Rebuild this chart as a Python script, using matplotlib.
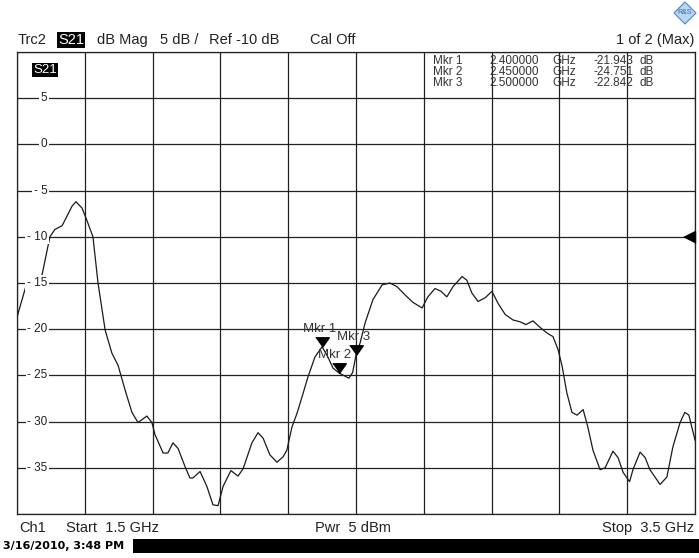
import numpy as np
import matplotlib.pyplot as plt
from matplotlib.patches import Rectangle, Polygon
from matplotlib.transforms import blended_transform_factory

plt.rcParams['font.family'] = ['Liberation Sans', 'DejaVu Sans']

# trace S21 (GHz, dB)
freq = [1.500, 1.529, 1.544, 1.559, 1.574, 1.597, 1.612, 1.633, 1.647, 1.662,
        1.674, 1.692, 1.706, 1.724, 1.739, 1.760, 1.780, 1.798, 1.819, 1.839,
        1.857, 1.883, 1.898, 1.907, 1.931, 1.945, 1.960, 1.975, 1.996, 2.010,
        2.019, 2.040, 2.060, 2.078, 2.093, 2.108, 2.131, 2.152, 2.167, 2.193,
        2.211, 2.226, 2.246, 2.267, 2.285, 2.296, 2.311, 2.326, 2.341, 2.358,
        2.379, 2.400, 2.417, 2.432, 2.450, 2.479, 2.490, 2.500, 2.512, 2.527,
        2.550, 2.577, 2.600, 2.621, 2.645, 2.668, 2.695, 2.712, 2.733, 2.751,
        2.768, 2.786, 2.813, 2.827, 2.842, 2.860, 2.881, 2.901, 2.919, 2.940,
        2.963, 2.984, 3.001, 3.022, 3.043, 3.063, 3.081, 3.096, 3.108, 3.122,
        3.137, 3.152, 3.170, 3.184, 3.199, 3.220, 3.235, 3.258, 3.273, 3.288,
        3.307, 3.317, 3.338, 3.353, 3.367, 3.397, 3.417, 3.435, 3.456, 3.470,
        3.482, 3.500]
s21 = [-18.7, -15.0, -14.6, -14.7, -14.1, -10.0, -9.2, -8.8, -7.8, -6.7,
       -6.2, -6.9, -8.2, -10.0, -15.0, -20.1, -22.6, -23.9, -26.6, -29.0,
       -30.1, -29.4, -30.1, -31.4, -33.4, -33.4, -32.3, -32.9, -34.9, -36.1,
       -36.1, -35.4, -37.0, -39.0, -39.1, -37.0, -35.3, -35.9, -35.1, -32.3,
       -31.2, -31.8, -33.6, -34.4, -33.8, -33.1, -30.6, -29.1, -27.3, -25.2,
       -23.0, -21.9, -23.0, -24.2, -24.75, -25.3, -24.7, -22.8, -21.5, -19.3,
       -16.8, -15.2, -15.0, -15.4, -16.3, -17.1, -17.7, -16.5, -15.6, -15.9,
       -16.5, -15.4, -14.3, -14.7, -16.1, -17.0, -16.6, -15.9, -17.2, -18.4,
       -19.0, -19.2, -19.5, -19.1, -19.8, -20.4, -20.8, -22.2, -24.0, -26.9,
       -29.0, -29.3, -28.7, -30.6, -33.1, -35.2, -35.0, -33.2, -33.9, -35.5,
       -36.5, -35.2, -33.3, -33.9, -35.2, -36.8, -36.0, -32.7, -30.1, -29.0,
       -29.3, -32.0]

mkr_names = ['Mkr 1', 'Mkr 2', 'Mkr 3']
mkr_freq = [2.40, 2.45, 2.50]
mkr_db = [-21.943, -24.751, -22.842]

y_ticks = [5, 0, -5, -10, -15, -20, -25, -30, -35]

W, H = 699, 558
fig = plt.figure(figsize=(W / 100, H / 100), dpi=100)


def fx(x):
    return x / W


def fy(y):
    return 1 - y / H


ax = fig.add_axes([fx(17), fy(514), 678 / W, 462 / H])
ax.set_xlim(1.5, 3.5)
ax.set_ylim(-40, 10)
ax.set_xticks(np.linspace(1.5, 3.5, 11))
ax.set_yticks(np.arange(-40, 11, 5))
ax.tick_params(length=0, labelbottom=False, labelleft=False)
ax.grid(True, color='#222222', lw=0.9)
for sp in ax.spines.values():
    sp.set_color('#222222')
    sp.set_linewidth(0.9)

ax.plot(freq, s21, color='#1a1a1a', lw=0.9, zorder=3)

# y labels sitting on the grid lines
tr = blended_transform_factory(ax.transAxes, ax.transData)
for v in y_ticks:
    ax.text(0.045, v, str(v).replace('-', '- ') if v < 0 else str(v), transform=tr,
            ha='right', va='center', fontsize=8.5, color='#222222',
            bbox=dict(facecolor='white', edgecolor='none', pad=1.2), zorder=4)

# markers: downward triangles with tip on the trace
tri = [(-0.7, 1.0), (0.7, 1.0), (0.0, 0.0)]
ax.plot(mkr_freq, mkr_db, ls='none', marker=tri, ms=14, color='black', zorder=5)
lab_dx = [-0.006, -0.014, -0.006]
for name, f, d, dx in zip(mkr_names, mkr_freq, mkr_db, lab_dx):
    ax.annotate(name, (f + dx, d), xytext=(0, 18), textcoords='offset pixels',
                ha='center', va='center', fontsize=9.5, color='#333333', zorder=4)

# reference level arrow on the right edge
ax.plot([3.5], [-10], ls='none', marker=[(-1, 0), (0, 0.5), (0, -0.5)], ms=17,
        color='black', clip_on=False, zorder=6)

# marker table
tbl = dict(fontsize=8.5, color='#333333', va='center')
for i, (name, f, d) in enumerate(zip(mkr_names, mkr_freq, mkr_db)):
    yy = 61.5 + i * 10.5
    fig.text(fx(433), fy(yy), name, **tbl)
    fig.text(fx(489), fy(yy), '%.6f' % f, **tbl)
    fig.text(fx(552), fy(yy), 'GHz', **tbl)
    fig.text(fx(594), fy(yy), '%.3f' % d, **tbl)
    fig.text(fx(640), fy(yy), 'dB', **tbl)

# S21 tag inside the plot
fig.text(fx(33), fy(70), 'S21', fontsize=9.5, color='white', va='center',
         bbox=dict(facecolor='black', edgecolor='none', pad=1))

# header line
hdr = dict(fontsize=10.5, color='#222222', va='center')
fig.text(fx(18), fy(40), 'Trc2', **hdr)
fig.text(fx(58), fy(40), 'S21', fontsize=10.5, color='white', va='center',
         bbox=dict(facecolor='black', edgecolor='none', pad=1))
fig.text(fx(97), fy(40), 'dB Mag', **hdr)
fig.text(fx(160), fy(40), '5 dB /', **hdr)
fig.text(fx(209), fy(40), 'Ref -10 dB', **hdr)
fig.text(fx(310), fy(40), 'Cal Off', **hdr)
fig.text(fx(694), fy(40), '1 of 2 (Max)', ha='right', **hdr)

# R&S logo
fig.patches.append(Polygon([(fx(685), fy(2)), (fx(696), fy(13)), (fx(685), fy(24)), (fx(674), fy(13))],
                           closed=True, transform=fig.transFigure, facecolor='#bcd6f0',
                           edgecolor='#4f86c6', lw=0.8))
fig.text(fx(685), fy(13), 'R&S', fontsize=5, color='#2f66b0', ha='center', va='center')

# footer
ftr = dict(fontsize=10.5, color='#222222', va='center')
fig.text(fx(19), fy(528), 'Ch1', **ftr)
fig.text(fx(66), fy(528), 'Start  1.5 GHz', **ftr)
fig.text(fx(315), fy(528), 'Pwr  5 dBm', **ftr)
fig.text(fx(694), fy(528), 'Stop  3.5 GHz', ha='right', **ftr)

fig.patches.append(Rectangle((fx(133), fy(553)), 1 - fx(133), 14 / H,
                             transform=fig.transFigure, facecolor='black', edgecolor='none'))
fig.text(fx(3), fy(546), '3/16/2010, 3:48 PM', fontsize=8, fontweight='bold',
         family='DejaVu Sans', color='black', va='center')

fig.savefig('out.png', dpi=100)
